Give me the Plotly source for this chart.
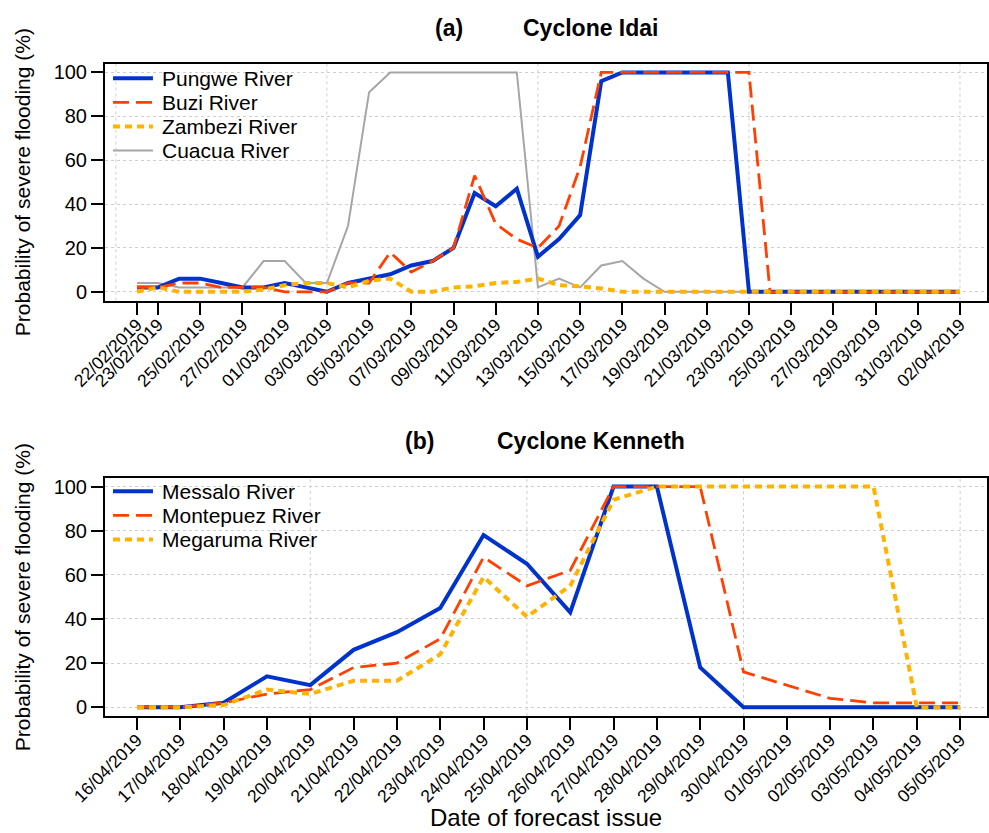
import plotly.graph_objects as go

# ---------------- data ----------------
IDAI_DATES = [
    "22/02/2019", "23/02/2019", "24/02/2019", "25/02/2019", "26/02/2019", "27/02/2019", "28/02/2019",
    "01/03/2019", "02/03/2019", "03/03/2019", "04/03/2019", "05/03/2019", "06/03/2019", "07/03/2019",
    "08/03/2019", "09/03/2019", "10/03/2019", "11/03/2019", "12/03/2019", "13/03/2019", "14/03/2019",
    "15/03/2019", "16/03/2019", "17/03/2019", "18/03/2019", "19/03/2019", "20/03/2019", "21/03/2019",
    "22/03/2019", "23/03/2019", "24/03/2019", "25/03/2019", "26/03/2019", "27/03/2019", "28/03/2019",
    "29/03/2019", "30/03/2019", "31/03/2019", "01/04/2019", "02/04/2019",
]
IDAI_TICKS = [
    "22/02/2019", "23/02/2019", "25/02/2019", "27/02/2019", "01/03/2019", "03/03/2019", "05/03/2019",
    "07/03/2019", "09/03/2019", "11/03/2019", "13/03/2019", "15/03/2019", "17/03/2019", "19/03/2019",
    "21/03/2019", "23/03/2019", "25/03/2019", "27/03/2019", "29/03/2019", "31/03/2019", "02/04/2019",
]
PUNGWE = [2, 2, 6, 6, 4, 2, 2, 4, 2, 0,
          4, 6, 8, 12, 14, 20, 45, 39, 47, 16,
          24, 35, 96, 100, 100, 100, 100, 100, 100, 0,
          0, 0, 0, 0, 0, 0, 0, 0, 0, 0]
BUZI = [2, 2, 4, 4, 2, 2, 2, 0, 0, 0,
        4, 4, 18, 9, 14, 20, 53, 31, 24, 20,
        30, 57, 100, 100, 100, 100, 100, 100, 100, 100,
        0, 0, 0, 0, 0, 0, 0, 0, 0, 0]
ZAMBEZI = [0, 2, 0, 0, 0, 0, 1, 3, 4, 4,
           2, 5, 6, 0, 0, 2, 2.5, 4, 4.5, 6,
           3, 2.5, 1.5, 0, 0, 0, 0, 0, 0, 0,
           0, 0, 0, 0, 0, 0, 0, 0, 0, 0]
CUACUA = [4, 4, 2, 2, 2, 2, 14, 14, 4, 4,
          30, 91, 100, 100, 100, 100, 100, 100, 100, 2,
          6, 2, 12, 14, 6, 0, 0, 0, 0, 0,
          0, 0, 0, 0, 0, 0, 0, 0, 0, 0]

KENNETH_DATES = [
    "16/04/2019", "17/04/2019", "18/04/2019", "19/04/2019", "20/04/2019", "21/04/2019", "22/04/2019",
    "23/04/2019", "24/04/2019", "25/04/2019", "26/04/2019", "27/04/2019", "28/04/2019", "29/04/2019",
    "30/04/2019", "01/05/2019", "02/05/2019", "03/05/2019", "04/05/2019", "05/05/2019",
]
MESSALO = [0, 0, 2, 14, 10, 26, 34, 45, 78, 65, 43, 100, 100, 18, 0, 0, 0, 0, 0, 0]
MONTEPUEZ = [0, 0, 2, 6, 8, 18, 20, 31, 68, 55, 62, 100, 100, 100, 16, 10, 4, 2, 2, 2]
MEGARUMA = [0, 0, 1, 8, 6, 12, 12, 24, 59, 41, 55, 94, 100, 100, 100, 100, 100, 100, 0, 0]

Y_TICKS = [0, 20, 40, 60, 80, 100]
GRID_TOP = [0, 10, 20, 30, 40]
GRID_BOTTOM = [0, 5, 10, 15, 20]

# ---------------- styles ----------------
FONT = "Liberation Sans, Arial, sans-serif"
W, H = 989, 833
ML, MR = 105, 1
STY_BLUE = dict(color="#0033CC", width=4)
STY_RED = dict(color="#FF4000", width=2.8, dash="16px,7px")
STY_ORANGE = dict(color="#FFB300", width=4, dash="7px,5px")
STY_GREY = dict(color="#A6A6A6", width=2)


def px_x(px):
    return (px - ML) / (W - ML - MR)


def px_y(py):
    return 1 - py / H


x_top = list(range(1, len(IDAI_DATES) + 1))
x_bot = list(range(1, len(KENNETH_DATES) + 1))
top_tickvals = [i + 1 for i, d in enumerate(IDAI_DATES) if d in IDAI_TICKS]
top_ticktext = [d for d in IDAI_DATES if d in IDAI_TICKS]

fig = go.Figure()

# top panel (Cuacua drawn first so it sits underneath)
top_series = [("Cuacua River", CUACUA, STY_GREY), ("Pungwe River", PUNGWE, STY_BLUE),
              ("Buzi River", BUZI, STY_RED), ("Zambezi River", ZAMBEZI, STY_ORANGE)]
for name, vals, sty in top_series:
    fig.add_trace(go.Scatter(x=x_top, y=vals, mode="lines", name=name, showlegend=False,
                             line=sty, xaxis="x", yaxis="y"))

bot_series = [("Messalo River", MESSALO, STY_BLUE), ("Montepuez River", MONTEPUEZ, STY_RED),
              ("Megaruma River", MEGARUMA, STY_ORANGE)]
for name, vals, sty in bot_series:
    fig.add_trace(go.Scatter(x=x_bot, y=vals, mode="lines", name=name, showlegend=False,
                             line=sty, xaxis="x2", yaxis="y2"))

top_dom = [1 - 300 / H, 1 - 62 / H]
bot_dom = [1 - 717.5 / H, 1 - 478 / H]

common_x = dict(ticks="outside", ticklen=12, tickwidth=1.5, tickcolor="black",
                showline=True, mirror=True, linewidth=2, linecolor="black",
                showgrid=False, zeroline=False, tickangle=-45, ticklabelstandoff=-7,
                tickfont=dict(family=FONT, size=17.5, color="black"))
common_y = dict(range=[-4, 104], tickvals=Y_TICKS, ticks="outside", ticklen=12, tickwidth=1.5,
                tickcolor="black", showline=True, mirror=True, linewidth=2, linecolor="black",
                showgrid=True, gridcolor="#CFCFCF", griddash="dot", gridwidth=1, zeroline=False,
                tickfont=dict(family=FONT, size=20, color="black"))

fig.update_layout(
    width=W, height=H,
    margin=dict(l=ML, r=MR, t=0, b=0),
    paper_bgcolor="white", plot_bgcolor="white",
    font=dict(family=FONT, color="black"),
    showlegend=False,
    xaxis=dict(domain=[0, 1], anchor="y", range=[-0.515, 41.28],
               tickvals=top_tickvals, ticktext=top_ticktext, **common_x),
    yaxis=dict(domain=top_dom, anchor="x", **common_y),
    xaxis2=dict(domain=[0, 1], anchor="y2", range=[0.262, 20.62],
                tickvals=x_bot, ticktext=KENNETH_DATES, **common_x),
    yaxis2=dict(domain=bot_dom, anchor="x2", **common_y),
)

shapes = []
for g in GRID_TOP:
    shapes.append(dict(type="line", xref="x", yref="y domain", x0=g, x1=g, y0=0, y1=1, layer="below",
                       line=dict(color="#CFCFCF", width=1, dash="dot")))
for g in GRID_BOTTOM:
    shapes.append(dict(type="line", xref="x2", yref="y2 domain", x0=g, x1=g, y0=0, y1=1, layer="below",
                       line=dict(color="#CFCFCF", width=1, dash="dot")))

# manual legends (R-style, no box)
legend_top = [("Pungwe River", STY_BLUE), ("Buzi River", STY_RED),
              ("Zambezi River", STY_ORANGE), ("Cuacua River", STY_GREY)]
legend_bot = [("Messalo River", STY_BLUE), ("Montepuez River", STY_RED),
              ("Megaruma River", STY_ORANGE)]
annotations = []
for items, y0 in ((legend_top, 76.7), (legend_bot, 491.7)):
    for i, (name, sty) in enumerate(items):
        yy = px_y(y0 + i * 24.2)
        shapes.append(dict(type="line", xref="paper", yref="paper",
                           x0=px_x(113), x1=px_x(153), y0=yy, y1=yy, line=sty))
        annotations.append(dict(text=name, x=px_x(160), y=yy, xref="paper", yref="paper",
                                xanchor="left", yanchor="middle", showarrow=False,
                                font=dict(family=FONT, size=21, color="black")))
fig.update_layout(shapes=shapes)

titles = [
    dict(text="<b>(a)</b>", x=px_x(449), y=px_y(26), size=23),
    dict(text="<b>Cyclone Idai</b>", x=px_x(591), y=px_y(26), size=23),
    dict(text="<b>(b)</b>", x=px_x(420), y=px_y(441), size=23),
    dict(text="<b>Cyclone Kenneth</b>", x=px_x(592), y=px_y(441), size=23),
    dict(text="Date of forecast issue", x=px_x(546), y=px_y(819), size=24),
]
for a in titles:
    annotations.append(dict(text=a["text"], x=a["x"], y=a["y"], xref="paper", yref="paper",
                            xanchor="center", yanchor="middle", showarrow=False,
                            font=dict(family=FONT, size=a["size"], color="black")))
for cy in (181, 598):
    annotations.append(dict(text="Probability of severe flooding (%)", x=px_x(22), y=px_y(cy),
                            xref="paper", yref="paper", xanchor="center", yanchor="middle",
                            textangle=-90, showarrow=False,
                            font=dict(family=FONT, size=21, color="black")))
fig.update_layout(annotations=annotations)

fig.write_html("out.html", config={"responsive": False, "displayModeBar": False},
               post_script="document.body.style.margin='0px';document.body.style.overflow='hidden';")
